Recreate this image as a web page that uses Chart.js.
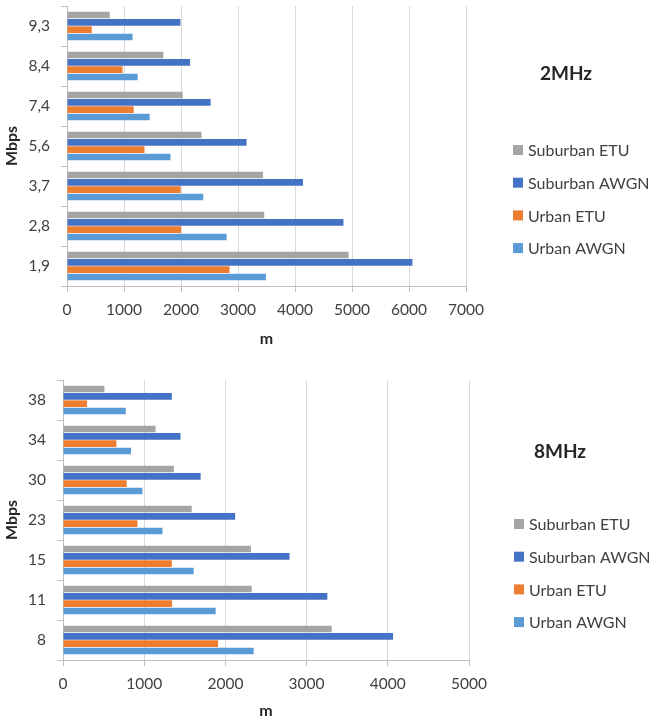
<!DOCTYPE html>
<html>
<head>
<meta charset="utf-8">
<script src="https://cdn.jsdelivr.net/npm/chart.js@4/dist/chart.umd.min.js"></script>
<style>
  html, body { margin: 0; padding: 0; background: #fff; overflow: hidden; }
  .panel { position: absolute; left: 0; width: 651px; }
  #p1 { top: 0; height: 360px; }
  #p2 { top: 360px; height: 360px; }
</style>
</head>
<body>
<div class="panel" id="p1"><canvas id="c1" width="651" height="360"></canvas></div>
<div class="panel" id="p2"><canvas id="c2" width="651" height="360"></canvas></div>
<script>
// Series names and colours
const seriesNames = ['Suburban ETU', 'Suburban AWGN', 'Urban ETU', 'Urban AWGN'];
const seriesColors = ['#A5A5A5', '#4472C4', '#ED7D31', '#5B9BD5'];

// 2 MHz bandwidth: data rate (Mbps) vs range (m), listed top to bottom
const rates2MHz = ['9,3', '8,4', '7,4', '5,6', '3,7', '2,8', '1,9'];
const suburbanEtu2 = [750, 1690, 2030, 2360, 3440, 3460, 4940];
const suburbanAwgn2 = [1990, 2160, 2520, 3150, 4140, 4850, 6060];
const urbanEtu2 = [435, 975, 1170, 1360, 1995, 2000, 2850];
const urbanAwgn2 = [1150, 1240, 1450, 1815, 2390, 2800, 3490];
const xTicks2 = [0, 1000, 2000, 3000, 4000, 5000, 6000, 7000];

// 8 MHz bandwidth
const rates8MHz = ['38', '34', '30', '23', '15', '11', '8'];
const suburbanEtu8 = [510, 1140, 1365, 1585, 2315, 2325, 3310];
const suburbanAwgn8 = [1340, 1447, 1695, 2120, 2790, 3255, 4065];
const urbanEtu8 = [296, 658, 785, 917, 1340, 1344, 1910];
const urbanAwgn8 = [773, 838, 978, 1225, 1610, 1880, 2348];
const xTicks8 = [0, 1000, 2000, 3000, 4000, 5000];

const FONT = 'Lato, "Open Sans", "DejaVu Sans", sans-serif';
const TEXT = '#404040';

// Legend with a heading, drawn at the right of the plot
const sideLegend = {
  id: 'sideLegend',
  afterDraw(chart, args, opts) {
    const ctx = chart.ctx;
    ctx.save();
    ctx.fillStyle = '#262626';
    ctx.font = 'bold 19px ' + FONT;
    ctx.textAlign = 'center';
    ctx.textBaseline = 'middle';
    ctx.fillText(opts.title, opts.titleX, opts.titleY);
    ctx.font = '16px ' + FONT;
    ctx.textAlign = 'left';
    chart.data.datasets.forEach((ds, i) => {
      const y = opts.rowY + i * opts.rowGap;
      ctx.fillStyle = ds.backgroundColor;
      ctx.fillRect(opts.boxX, y - 5, 10, 10);
      ctx.fillStyle = TEXT;
      ctx.fillText(ds.label, opts.boxX + 15, y + 1);
    });
    ctx.restore();
  }
};

function makeChart(id, labels, series, ticks, cfg) {
  const datasets = series.map((data, i) => ({
    label: seriesNames[i],
    data: data,
    backgroundColor: seriesColors[i],
    borderWidth: 0,
    barPercentage: 0.91,
    categoryPercentage: 0.735
  }));
  return new Chart(document.getElementById(id), {
    type: 'bar',
    data: { labels: labels, datasets: datasets },
    plugins: [sideLegend],
    options: {
      indexAxis: 'y',
      responsive: false,
      animation: false,
      devicePixelRatio: 1,
      layout: { padding: { left: 0, top: cfg.top, right: cfg.right, bottom: 0 } },
      plugins: {
        legend: { display: false },
        tooltip: { enabled: false },
        sideLegend: cfg.legend
      },
      scales: {
        x: {
          min: ticks[0],
          max: ticks[ticks.length - 1],
          afterBuildTicks(s) { s.ticks = ticks.map(v => ({ value: v })); },
          afterFit(s) { s.height = cfg.xHeight; s.paddingLeft = 0; s.paddingRight = 0; },
          grid: { color: '#D9D9D9', lineWidth: 1, tickLength: 6, tickColor: '#BFBFBF', drawTicks: true },
          border: { color: '#BFBFBF', width: 1 },
          ticks: {
            font: { family: FONT, size: 15.5 }, color: TEXT, padding: 9, maxRotation: 0,
            callback: v => String(v)
          },
          title: { display: true, text: 'm', font: { family: FONT, size: 16, weight: 'bold' }, color: '#262626', padding: { top: 2, bottom: cfg.titlePad } }
        },
        y: {
          afterFit(s) { s.width = cfg.yWidth; s.paddingTop = 0; s.paddingBottom = 0; },
          grid: { drawOnChartArea: false, tickLength: 6, tickColor: '#BFBFBF', offset: true },
          border: { color: '#BFBFBF', width: 1 },
          ticks: { font: { family: FONT, size: 15.5 }, color: TEXT, padding: 11 },
          title: { display: true, text: 'Mbps', font: { family: FONT, size: 16, weight: 'bold' }, color: '#262626', padding: { top: 2, bottom: 2 } }
        }
      }
    }
  });
}

makeChart('c1', rates2MHz, [suburbanEtu2, suburbanAwgn2, urbanEtu2, urbanAwgn2], xTicks2, {
  top: 6, right: 185, xHeight: 74, yWidth: 67, titlePad: 12,
  legend: { title: '2MHz', titleX: 566, titleY: 74, boxX: 513, rowY: 150, rowGap: 32.7 }
});

makeChart('c2', rates8MHz, [suburbanEtu8, suburbanAwgn8, urbanEtu8, urbanAwgn8], xTicks8, {
  top: 20, right: 182, xHeight: 60, yWidth: 63, titlePad: 0,
  legend: { title: '8MHz', titleX: 560, titleY: 92, boxX: 514, rowY: 164, rowGap: 32.7 }
});
</script>
</body>
</html>
